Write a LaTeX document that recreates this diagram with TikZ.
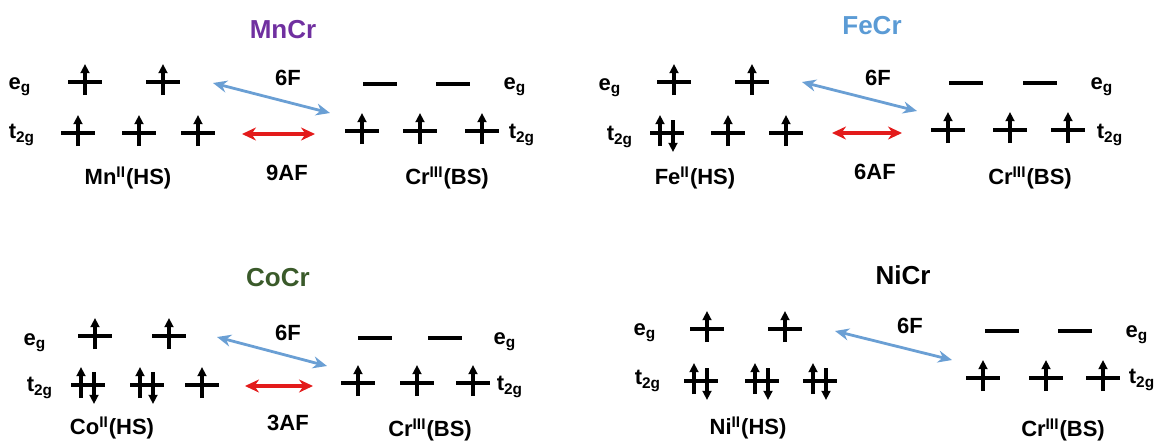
\documentclass[tikz,border=0pt]{standalone}
\usepackage{fontspec}
\setmainfont{Liberation Sans}
\usetikzlibrary{arrows.meta}
\definecolor{mnpurple}{HTML}{7030A0}
\definecolor{feblue}{HTML}{5B9BD5}
\definecolor{cogreen}{HTML}{3A5A2A}
\definecolor{fblue}{HTML}{6A9FD4}
\definecolor{afred}{HTML}{E31B1B}
\tikzset{
  orb/.style={line width=1.8pt},
  spin/.style={-{Triangle[length=4.6pt,width=4.4pt]},line width=1.6pt},
  ferro/.style={{Stealth[length=7pt,width=6pt]}-{Stealth[length=7pt,width=6pt]},line width=1.4pt,draw=fblue},
  anti/.style={{Stealth[length=7pt,width=6.5pt]}-{Stealth[length=7pt,width=6.5pt]},line width=1.7pt,draw=afred},
  lbl/.style={font=\bfseries\fontsize{11}{13}\selectfont,inner sep=0pt},
  ttl/.style={font=\bfseries\fontsize{13}{15}\selectfont,inner sep=0pt},
  orbnone/.pic={\draw[orb] (-17,0) -- (17,0);},
  orbup/.pic={\draw[orb] (-17,0) -- (17,0); \draw[spin] (0,13) -- (0,-18);},
  orbpair/.pic={\draw[orb] (-17,0) -- (17,0); \draw[spin] (-7,13) -- (-7,-18); \draw[spin] (6,-13) -- (6,19);},
}
\begin{document}
\begin{tikzpicture}[x=0.5pt,y=-0.5pt]
  \useasboundingbox (0,0) rectangle (1161,440);
  % MnCr
  \node[ttl,text=mnpurple] (mn-ttl) at (283,30) {MnCr};
  \foreach \x/\y/\k in {85/82/orbup,163/82/orbup,78/133/orbup,139/133/orbup,198/133/orbup,
                        380/84/orbnone,453/84/orbnone,362/131/orbup,420/131/orbup,482/131/orbup}
    \pic at (\x,\y) {\k};
  \node[lbl] (mn-eg) at (20,87) {e\textsubscript{g}};
  \node[lbl] (mn-tg) at (22,135) {t\textsubscript{2g}};
  \node[lbl] (mn-cr-eg) at (515,87) {e\textsubscript{g}};
  \node[lbl] (mn-cr-tg) at (522,135) {t\textsubscript{2g}};
  \coordinate (mn-f1) at (213,83); \coordinate (mn-f2) at (330,113);
  \coordinate (mn-a1) at (242,134); \coordinate (mn-a2) at (315,134);
  \draw[ferro] (mn-f1) -- (mn-f2);
  \draw[anti] (mn-a1) -- (mn-a2);
  \node[lbl] (mn-f) at (288,78) {6F};
  \node[lbl] (mn-af) at (287,173) {9AF};
  \node[lbl] (mn-ion) at (128,178) {Mn\textsuperscript{II}(HS)};
  \node[lbl] (mn-cr) at (447,178) {Cr\textsuperscript{III}(BS)};
  % FeCr
  \node[ttl,text=feblue] (fe-ttl) at (872,26) {FeCr};
  \foreach \x/\y/\k in {674/82/orbup,752/82/orbup,667/133/orbpair,728/133/orbup,786/133/orbup,
                        966/83/orbnone,1040/83/orbnone,948/130/orbup,1010/130/orbup,1068/130/orbup}
    \pic at (\x,\y) {\k};
  \node[lbl] (fe-eg) at (610,88) {e\textsubscript{g}};
  \node[lbl] (fe-tg) at (620,137) {t\textsubscript{2g}};
  \node[lbl] (fe-cr-eg) at (1102,87) {e\textsubscript{g}};
  \node[lbl] (fe-cr-tg) at (1110,135) {t\textsubscript{2g}};
  \coordinate (fe-f1) at (802,82); \coordinate (fe-f2) at (917,111);
  \coordinate (fe-a1) at (832,133); \coordinate (fe-a2) at (902,133);
  \draw[ferro] (fe-f1) -- (fe-f2);
  \draw[anti] (fe-a1) -- (fe-a2);
  \node[lbl] (fe-f) at (878,78) {6F};
  \node[lbl] (fe-af) at (875,172) {6AF};
  \node[lbl] (fe-ion) at (695,178) {Fe\textsuperscript{II}(HS)};
  \node[lbl] (fe-cr) at (1030,178) {Cr\textsuperscript{III}(BS)};
  % CoCr
  \node[ttl,text=cogreen] (co-ttl) at (278,278) {CoCr};
  \foreach \x/\y/\k in {95/336/orbup,169/336/orbup,88/385/orbpair,147/385/orbpair,202/385/orbup,
                        375/338/orbnone,445/338/orbnone,358/383/orbup,417/383/orbup,473/383/orbup}
    \pic at (\x,\y) {\k};
  \node[lbl] (co-eg) at (35,343) {e\textsubscript{g}};
  \node[lbl] (co-tg) at (40,388) {t\textsubscript{2g}};
  \node[lbl] (co-cr-eg) at (505,342) {e\textsubscript{g}};
  \node[lbl] (co-cr-tg) at (510,387) {t\textsubscript{2g}};
  \coordinate (co-f1) at (217,337); \coordinate (co-f2) at (327,366);
  \coordinate (co-a1) at (245,386); \coordinate (co-a2) at (313,386);
  \draw[ferro] (co-f1) -- (co-f2);
  \draw[anti] (co-a1) -- (co-a2);
  \node[lbl] (co-f) at (288,333) {6F};
  \node[lbl] (co-af) at (288,423) {3AF};
  \node[lbl] (co-ion) at (112,428) {Co\textsuperscript{II}(HS)};
  \node[lbl] (co-cr) at (430,430) {Cr\textsuperscript{III}(BS)};
  % NiCr
  \node[ttl] (ni-ttl) at (903,275) {NiCr};
  \foreach \x/\y/\k in {707/329/orbup,785/329/orbup,701/381/orbpair,762/381/orbpair,820/381/orbpair,
                        1002/331/orbnone,1075/331/orbnone,983/378/orbup,1046/378/orbup,1103/378/orbup}
    \pic at (\x,\y) {\k};
  \node[lbl] (ni-eg) at (645,333) {e\textsubscript{g}};
  \node[lbl] (ni-tg) at (648,381) {t\textsubscript{2g}};
  \node[lbl] (ni-cr-eg) at (1137,335) {e\textsubscript{g}};
  \node[lbl] (ni-cr-tg) at (1142,380) {t\textsubscript{2g}};
  \coordinate (ni-f1) at (835,331); \coordinate (ni-f2) at (952,360);
  \draw[ferro] (ni-f1) -- (ni-f2);
  \node[lbl] (ni-f) at (910,326) {6F};
  \node[lbl] (ni-ion) at (748,428) {Ni\textsuperscript{II}(HS)};
  \node[lbl] (ni-cr) at (1063,430) {Cr\textsuperscript{III}(BS)};
\end{tikzpicture}
\end{document}
